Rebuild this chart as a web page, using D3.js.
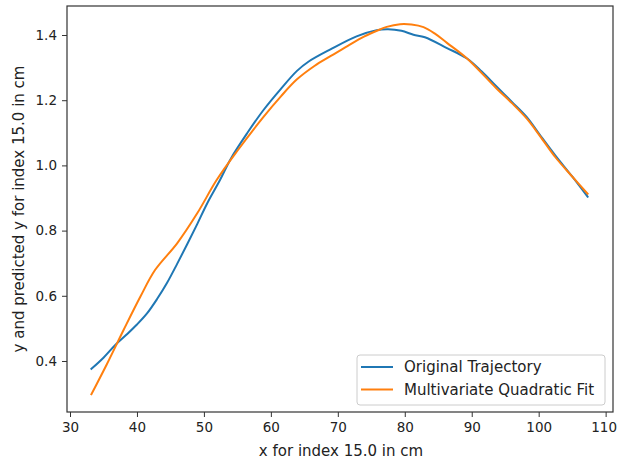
<!DOCTYPE html>
<html><head><meta charset="utf-8">
<script src="https://cdn.jsdelivr.net/npm/d3@7"></script>
<style>body{margin:0;background:#fff}svg{display:block}</style>
</head><body>
<script>
const blueX = [33.2,35.0,36.8,38.5,40.0,41.5,43.0,44.5,46.0,47.5,49.0,50.5,52.4,54.0,56.5,58.9,61.5,63.9,65.6,68.9,72.8,75.8,77.5,79.5,81.3,83.0,86.3,89.3,91.5,93.7,96.0,98.2,100.2,102.5,105.0,107.3];
const blueY = [0.376,0.410,0.450,0.482,0.512,0.546,0.590,0.640,0.698,0.758,0.820,0.884,0.955,1.020,1.100,1.170,1.235,1.290,1.318,1.356,1.396,1.415,1.418,1.413,1.401,1.393,1.360,1.328,1.288,1.242,1.195,1.149,1.093,1.030,0.966,0.904];
const orangeX = [33.2,35.5,38.0,40.5,42.7,46.0,49.0,51.9,55.0,58.9,61.5,63.9,66.5,68.9,71.5,73.9,76.3,77.3,79.3,81.0,82.8,84.5,86.3,89.3,93.7,96.0,98.2,100.2,102.5,105.0,107.3];
const orangeY = [0.298,0.390,0.495,0.597,0.679,0.761,0.853,0.955,1.045,1.149,1.212,1.264,1.305,1.335,1.367,1.395,1.417,1.425,1.433,1.432,1.424,1.404,1.376,1.328,1.236,1.191,1.144,1.090,1.025,0.966,0.913];
const xTicks = [30,40,50,60,70,80,90,100,110];
const yTicks = [0.4,0.6,0.8,1.0,1.2,1.4];
const seriesNames = ["Original Trajectory","Multivariate Quadratic Fit"];
const colors = ["#1f77b4","#ff7f0e"];

const W = 618, H = 463;
const L = 67, R = 613, T = 6, B = 412;
const FONT = "'DejaVu Sans', sans-serif";
const svg = d3.select("body").append("svg").attr("width",W).attr("height",H)
  .style("font-family",FONT);

const x = d3.scaleLinear().domain([29.55,111.1]).range([L,R]);
const y = d3.scaleLinear().domain([0.2435,1.489]).range([B,T]);

const line = d3.line().x(d=>x(d[0])).y(d=>y(d[1])).curve(d3.curveCatmullRom.alpha(0.5));
const series = [d3.zip(blueX,blueY), d3.zip(orangeX,orangeY)];
series.forEach((s,i)=>{
  svg.append("path").datum(s).attr("d",line).attr("fill","none")
    .attr("stroke",colors[i]).attr("stroke-width",2).attr("stroke-linejoin","round").attr("stroke-linecap","square");
});

const xAxis = svg.append("g").attr("transform",`translate(0,${B})`)
  .call(d3.axisBottom(x).tickValues(xTicks).tickFormat(d3.format("d")).tickSize(5).tickPadding(5));
const yAxis = svg.append("g").attr("transform",`translate(${L},0)`)
  .call(d3.axisLeft(y).tickValues(yTicks).tickFormat(d3.format(".1f")).tickSize(5).tickPadding(5));
[xAxis,yAxis].forEach(a=>{
  a.select(".domain").remove();
  a.selectAll("line").attr("stroke","#333").attr("stroke-width",1);
  a.selectAll("text").attr("font-size",13.5).attr("fill","#222").style("font-family",FONT);
});
xAxis.selectAll("text").filter(d=>d===110).attr("dx",-2);

svg.append("rect").attr("x",L).attr("y",T).attr("width",R-L).attr("height",B-T)
  .attr("fill","none").attr("stroke","#333").attr("stroke-width",1.2);

svg.append("text").attr("x",(L+R)/2 + 1).attr("y",456).attr("text-anchor","middle")
  .attr("font-size",15).attr("fill","#222").text("x for index 15.0 in cm");
svg.append("text").attr("transform",`translate(24,${(T+B)/2}) rotate(-90)`).attr("text-anchor","middle")
  .attr("font-size",15).attr("fill","#222").text("y and predicted y for index 15.0 in cm");

const lg = svg.append("g");
lg.append("rect").attr("x",357).attr("y",355).attr("width",248).attr("height",50).attr("rx",3)
  .attr("fill","#fff").attr("fill-opacity",0.8).attr("stroke","#ccc").attr("stroke-width",1);
seriesNames.forEach((n,i)=>{
  const yy = 367 + i*22.5;
  lg.append("line").attr("x1",361).attr("x2",393).attr("y1",yy).attr("y2",yy)
    .attr("stroke",colors[i]).attr("stroke-width",2);
  lg.append("text").attr("x",404).attr("y",yy).attr("dy","0.35em").attr("font-size",15)
    .attr("fill","#222").text(n);
});
</script>
</body></html>
